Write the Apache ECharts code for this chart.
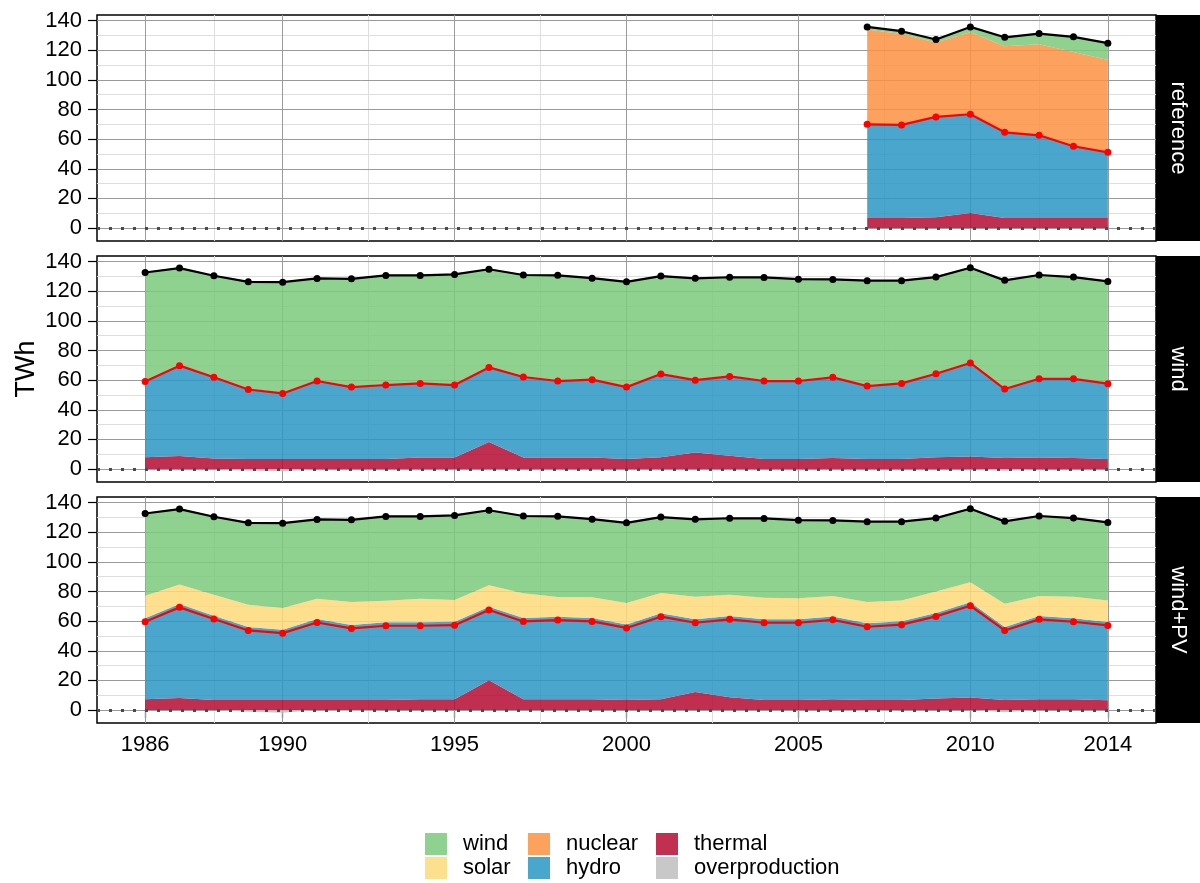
<!DOCTYPE html>
<html>
<head>
<meta charset="utf-8">
<script src="https://cdn.jsdelivr.net/npm/echarts@6/dist/echarts.min.js"></script>
<style>
  html, body { margin: 0; background: #fff; }
  #chart { width: 1200px; height: 883px; }
</style>
</head>
<body>
<div id="chart"></div>
<script>
// ---- data (TWh) ----
const years = [1986, 1987, 1988, 1989, 1990, 1991, 1992, 1993, 1994, 1995, 1996, 1997, 1998, 1999, 2000,
  2001, 2002, 2003, 2004, 2005, 2006, 2007, 2008, 2009, 2010, 2011, 2012, 2013, 2014];
const refYears = [2007, 2008, 2009, 2010, 2011, 2012, 2013, 2014];

// reference scenario
const refThermal = [6.8, 6.8, 7.2, 10.1, 6.8, 6.8, 6.8, 6.8];
const refHydro = [63.2, 62.8, 67.8, 66.7, 57.8, 55.8, 48.4, 44.3];
const refNuclear = [64.0, 61.5, 50.2, 55.4, 58.1, 61.5, 63.7, 62.4];
const refWind = [2.1, 2.1, 2.4, 3.9, 6.4, 7.5, 10.5, 11.6];
const refRed = [70.0, 69.6, 75.0, 76.8, 64.6, 62.6, 55.2, 51.1];
const refDemand = [135.8, 132.9, 127.3, 135.8, 128.8, 131.3, 129.1, 124.8];

// demand (black line) for the wind and wind+PV scenarios
const demand = [132.7, 135.7, 130.5, 126.4, 126.2, 128.7, 128.4, 130.7, 130.7, 131.4, 134.9, 131.0, 130.8, 128.9, 126.4,
  130.3, 128.8, 129.5, 129.4, 128.2, 128.0, 127.2, 127.2, 129.6, 135.9, 127.4, 131.0, 129.6, 126.7];

// wind scenario
const windThermal = [7.9, 8.8, 7.0, 6.8, 6.8, 6.8, 6.8, 6.8, 7.7, 7.7, 18.3, 7.7, 7.7, 7.7, 6.8,
  7.9, 11.1, 9.0, 6.8, 6.8, 7.4, 6.8, 6.8, 7.9, 8.4, 7.4, 7.7, 7.4, 6.8];
const windHydro = [51.7, 61.5, 55.4, 47.4, 44.7, 53.1, 49.0, 50.4, 50.6, 49.5, 50.8, 54.9, 52.2, 53.1, 49.0,
  56.7, 49.4, 54.0, 53.1, 53.1, 55.0, 49.7, 51.5, 56.9, 63.7, 47.1, 53.7, 54.0, 51.3];
const windWind = [73.6, 65.9, 68.6, 72.7, 75.2, 69.3, 73.1, 74.0, 72.9, 74.7, 66.3, 68.9, 71.4, 68.6, 71.1,
  66.2, 68.8, 67.0, 70.0, 68.8, 66.1, 71.2, 69.4, 65.3, 64.3, 73.4, 70.1, 68.7, 69.1];
const windOver = [0, 0, 0, -1.0, -1.5, 0, 0, 0, 0, 0, 0, 0, 0, 0, 0,
  0, 0, 0, 0, 0, 0, 0, 0, 0, 0, -1.2, 0, 0, 0];
const windRed = [59.1, 69.8, 61.9, 53.7, 51.0, 59.4, 55.3, 56.7, 57.8, 56.7, 68.6, 62.1, 59.4, 60.3, 55.3,
  64.1, 60.0, 62.5, 59.4, 59.4, 61.9, 56.0, 57.8, 64.3, 71.6, 54.0, 60.9, 60.9, 57.6];

// wind+PV scenario
const pvThermal = [7.2, 8.1, 6.8, 6.8, 6.8, 6.8, 6.8, 6.8, 7.2, 7.2, 20.1, 7.2, 7.2, 7.2, 6.8,
  7.2, 12.2, 8.6, 6.8, 6.8, 7.2, 6.8, 6.8, 7.7, 8.4, 6.8, 7.2, 7.2, 6.5];
const pvHydro = [54.7, 63.5, 56.9, 49.2, 47.4, 54.6, 50.6, 52.4, 52.0, 52.4, 49.7, 54.9, 55.8, 54.9, 50.9,
  58.1, 49.0, 54.9, 54.4, 54.4, 56.0, 51.7, 53.1, 57.8, 64.3, 49.2, 56.3, 54.7, 52.9];
const pvSolar = [15.3, 13.1, 14.2, 15.1, 14.6, 13.8, 15.5, 14.6, 16.0, 14.7, 14.4, 16.7, 13.3, 14.0, 14.5,
  13.7, 15.3, 14.4, 14.6, 14.2, 13.8, 14.4, 14.1, 14.6, 13.5, 15.8, 13.5, 14.6, 14.6];
const pvWind = [56.0, 51.5, 53.1, 55.8, 57.9, 54.0, 56.0, 57.4, 56.0, 57.6, 51.2, 52.7, 55.0, 53.3, 54.7,
  51.8, 52.8, 52.1, 54.1, 53.3, 51.5, 54.8, 53.7, 50.0, 50.2, 56.1, 54.5, 53.6, 53.2];
const pvOver = [0, 0, 0, -1.2, -1.8, 0, -0.8, 0, 0, 0, 0, 0, 0, 0, 0,
  0, 0, 0, 0, 0, 0, -0.8, 0, 0, 0, -1.5, 0, 0, 0];
const pvRed = [59.6, 69.3, 61.4, 53.7, 51.9, 59.1, 55.1, 56.9, 56.9, 57.3, 67.5, 59.8, 60.7, 59.8, 55.4,
  63.0, 58.9, 61.2, 58.9, 58.9, 60.9, 56.2, 57.6, 63.2, 70.4, 53.7, 61.2, 59.6, 57.1];

// axis ticks
const xTicks = [1986, 1990, 1995, 2000, 2005, 2010, 2014];
const xMinor = [1988, 1992.5, 1997.5, 2002.5, 2007.5, 2012];
const yTicks = [0, 20, 40, 60, 80, 100, 120, 140];
const yMinor = [10, 30, 50, 70, 90, 110, 130];

const panels = [
  { name: 'reference', years: refYears, red: refRed, black: refDemand, over: null,
    layers: { thermal: refThermal, hydro: refHydro, nuclear: refNuclear, wind: refWind } },
  { name: 'wind', years: years, red: windRed, black: demand, over: windOver,
    layers: { thermal: windThermal, hydro: windHydro, wind: windWind } },
  { name: 'wind+PV', years: years, red: pvRed, black: demand, over: pvOver,
    layers: { thermal: pvThermal, hydro: pvHydro, solar: pvSolar, wind: pvWind } }
];

// ---- styling ----
const FONT = '"Liberation Sans", Arial, Helvetica, sans-serif';
// area fills (drawn at 0.85 opacity), legend keys show the blended colour
const fill = { wind: '#7bc97b', solar: '#fdd97a', nuclear: '#fb9142', hydro: '#2a96c3', thermal: '#b60b31', overproduction: '#bebebe' };
const keyCol = { wind: '#8fd18f', solar: '#fde08d', nuclear: '#fca25e', hydro: '#49a6cd', thermal: '#c13050', overproduction: '#c8c8c8' };
const order = ['thermal', 'hydro', 'nuclear', 'solar', 'wind'];

const L = 97, R = 44, H = 226;
const tops = [15, 256, 497];
const xMin = 1984.6, xMax = 2015.4, yMin = -8.8, yMax = 143.85;

const major = { color: '#9a9a9a', width: 1, type: 'solid' };
const minor = { color: '#dedede', width: 1, type: 'solid' };

const chart = echarts.init(document.getElementById('chart'));
const grid = [], xAxis = [], yAxis = [], series = [], graphic = [];

panels.forEach((p, i) => {
  const last = i === panels.length - 1;
  grid.push({ left: L, right: R, top: tops[i], height: H, show: true, borderColor: '#000', borderWidth: 1.5, backgroundColor: 'transparent' });
  xAxis.push({
    gridIndex: i, type: 'value', min: xMin, max: xMax,
    axisLine: { show: false }, splitLine: { show: false },
    axisTick: { show: last, customValues: xTicks, length: 8, lineStyle: { color: '#000', width: 1.2 } },
    axisLabel: { show: last, customValues: xTicks, margin: 11, fontSize: 22, color: '#000', fontFamily: FONT, formatter: v => String(v) }
  });
  yAxis.push({
    gridIndex: i, type: 'value', min: yMin, max: yMax,
    axisLine: { show: false }, splitLine: { show: false },
    axisTick: { show: true, customValues: yTicks, length: 9, lineStyle: { color: '#000', width: 1.2 } },
    axisLabel: { customValues: yTicks, margin: 15, fontSize: 22, color: '#000', fontFamily: FONT, formatter: v => String(v) }
  });

  // panel grid lines, under the areas
  const lines = [];
  yMinor.forEach(v => lines.push({ yAxis: v, lineStyle: minor }));
  xMinor.forEach(v => lines.push({ xAxis: v, lineStyle: minor }));
  yTicks.forEach(v => lines.push({ yAxis: v, lineStyle: major }));
  xTicks.forEach(v => lines.push({ xAxis: v, lineStyle: major }));
  series.push({
    type: 'line', name: 'grid' + i, xAxisIndex: i, yAxisIndex: i, data: [], z: 1, silent: true,
    markLine: { z: 1, silent: true, symbol: 'none', animation: false, label: { show: false }, data: lines }
  });

  // stacked generation areas (value first so the stack runs on y)
  order.forEach(k => {
    const v = p.layers[k];
    if (!v) return;
    series.push({
      type: 'line', name: k, xAxisIndex: i, yAxisIndex: i, stack: 'gen' + i,
      data: v.map((val, j) => [val, p.years[j]]), encode: { x: 1, y: 0 },
      symbol: 'none', showSymbol: false, lineStyle: { width: 0 },
      itemStyle: { color: fill[k] }, areaStyle: { color: fill[k], opacity: 0.85 },
      z: 2, silent: true, animation: false
    });
  });
  if (p.over) {
    series.push({
      type: 'line', name: 'overproduction', xAxisIndex: i, yAxisIndex: i,
      data: p.over.map((val, j) => [p.years[j], val]),
      symbol: 'none', showSymbol: false, lineStyle: { width: 0 },
      itemStyle: { color: fill.overproduction }, areaStyle: { color: fill.overproduction, opacity: 0.85 },
      z: 2, silent: true, animation: false
    });
  }

  // zero line
  series.push({
    type: 'line', name: 'zero' + i, xAxisIndex: i, yAxisIndex: i, data: [], z: 4, silent: true,
    markLine: { z: 4, silent: true, symbol: 'none', animation: false, label: { show: false },
      lineStyle: { color: '#4a4a4a', width: 3, type: [3, 9], cap: 'butt' }, data: [{ yAxis: 0 }] }
  });

  // red and black lines
  [['red' + i, p.red, '#ff0000'], ['demand' + i, p.black, '#000000']].forEach(([nm, v, c]) => {
    series.push({
      type: 'line', name: nm, xAxisIndex: i, yAxisIndex: i,
      data: v.map((val, j) => [p.years[j], val]),
      symbol: 'circle', symbolSize: 7, showSymbol: true,
      lineStyle: { color: c, width: 2.2 }, itemStyle: { color: c },
      z: 5, silent: true, animation: false
    });
  });

  // facet strip
  graphic.push({ type: 'rect', shape: { x: 1200 - R, y: tops[i], width: R, height: H }, style: { fill: '#000' } });
  graphic.push({
    type: 'text', x: 1200 - R / 2, y: tops[i] + H / 2, rotation: -Math.PI / 2,
    style: { text: p.name, fill: '#fff', font: '22px ' + FONT, align: 'center', verticalAlign: 'middle' }
  });
});

// y axis title
graphic.push({
  type: 'text', x: 27, y: tops[1] + H / 2, rotation: Math.PI / 2,
  style: { text: 'TWh', fill: '#000', font: '27px ' + FONT, align: 'center', verticalAlign: 'middle' }
});

const legendCols = [['wind', 'solar'], ['nuclear', 'hydro'], ['thermal', 'overproduction']];
const legendLeft = [425, 528, 656];
const legend = legendCols.map((names, c) => ({
  orient: 'vertical', left: legendLeft[c], top: 833, padding: 0,
  itemWidth: 22, itemHeight: 22, itemGap: 2, icon: 'rect', selectedMode: false,
  textStyle: { fontSize: 22, color: '#000', fontFamily: FONT, padding: [0, 0, 0, 11] },
  data: names.map(n => ({ name: n, itemStyle: { color: keyCol[n], borderWidth: 0 } }))
}));

chart.setOption({
  animation: false,
  backgroundColor: '#fff',
  grid, xAxis, yAxis, series, graphic, legend
});
</script>
</body>
</html>
